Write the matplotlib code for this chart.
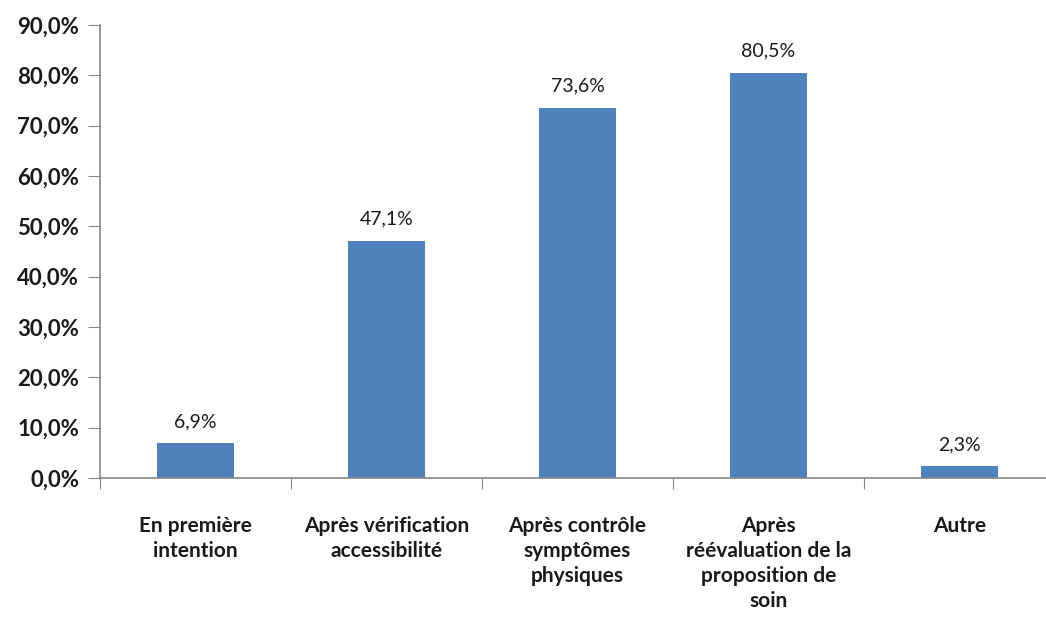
import matplotlib.pyplot as plt
from matplotlib.ticker import FuncFormatter

# Data
categories = ['En première\nintention', 'Après vérification\naccessibilité',
              'Après contrôle\nsymptômes\nphysiques',
              'Après\nréévaluation de la\nproposition de\nsoin', 'Autre']
values = [6.9, 47.1, 73.6, 80.5, 2.3]
value_labels = ['6,9%', '47,1%', '73,6%', '80,5%', '2,3%']

plt.rcParams['font.family'] = ['Lato', 'DejaVu Sans']

fig = plt.figure(figsize=(10.46, 6.21), dpi=100)
W, H = 1046, 621
x0, x1 = 100, 1055
y0, y1 = 478, 25
ax = fig.add_axes([x0 / W, 1 - y0 / H, (x1 - x0) / W, (y0 - y1) / H])

pos = range(len(values))
bars = ax.bar(pos, values, width=0.4, color='#4F81BD', zorder=2)
for b, lab in zip(bars, value_labels):
    ax.text(b.get_x() + b.get_width() / 2, b.get_height() + 2.6, lab,
            ha='center', va='bottom', fontsize=14, color='#1a1a1a')

ax.set_xlim(-0.5, len(values) - 0.5)
ax.set_ylim(0, 90)
ax.set_yticks(range(0, 91, 10))
ax.yaxis.set_major_formatter(FuncFormatter(lambda v, p: f'{v:.1f}%'.replace('.', ',')))

ax.set_xticks([p - 0.5 for p in range(len(values) + 1)])
ax.set_xticklabels([])
ax.set_xticks(list(pos), minor=True)
ax.set_xticklabels(categories, minor=True, fontsize=15, fontweight='bold',
                   color='#1a1a1a', linespacing=1.32)
ax.tick_params(axis='x', which='minor', length=0, pad=27)
ax.tick_params(axis='x', which='major', length=8, color='#868686', direction='out')
ax.tick_params(axis='y', length=9, color='#868686', labelsize=16, pad=6)
for t in ax.get_yticklabels():
    t.set_fontweight('bold')
    t.set_color('#1a1a1a')

for s in ['top', 'right']:
    ax.spines[s].set_visible(False)
for s in ['left', 'bottom']:
    ax.spines[s].set_color('#868686')
    ax.spines[s].set_linewidth(1.2)

fig.savefig('out.png', dpi=100)
